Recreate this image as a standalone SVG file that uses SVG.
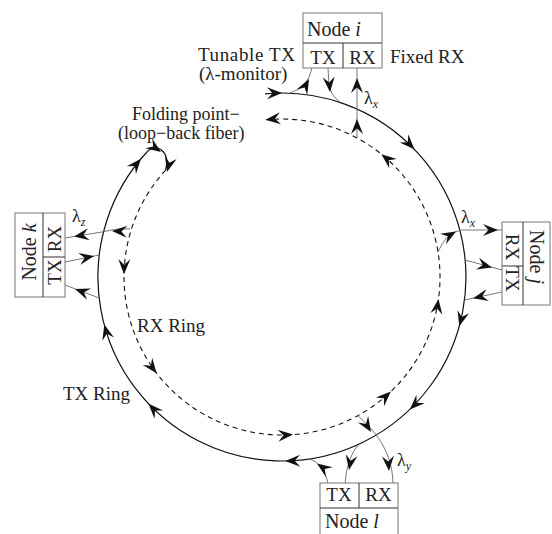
<svg xmlns="http://www.w3.org/2000/svg" width="552" height="534" viewBox="0 0 552 534">
<style>
.t{font-family:"Liberation Serif","Times New Roman",serif;font-size:19px;fill:#222}
.s{font-size:18px}
.n{font-size:20px}
.sub{font-size:12px;font-style:italic}
.it{font-style:italic}
.box{fill:#fff;stroke:#777;stroke-width:1}
.div{fill:none;stroke:#333;stroke-width:1}
.ring{fill:none;stroke:#111;stroke-width:1.2}
.dash{fill:none;stroke:#111;stroke-width:1.1;stroke-dasharray:5 4}
.conn{fill:none;stroke:#666;stroke-width:0.9}
.ah{fill:#111}
</style>
<defs>
<path id="ah" class="ah" d="M0,0 L-15,-6 L-9.5,0 L-15,6 Z"/>
</defs>

<g id="rings">
<path class="ring" d="M265,93.8 A184,184 0 1 1 147.4,151.5"/>
<path class="ring" d="M147.4,151.5 C155,143 171,150 165.5,170.3"/>
<path class="dash" d="M165.5,170.3 A158,158 0 1 0 266.3,119.8"/>
</g>

<g id="connectors">
<!-- node i -->
<path class="conn" d="M290,93 Q308,88 312,68"/>
<path class="conn" d="M328,68 L329,85 Q331,96 340,102"/>
<path class="conn" d="M357,138 L357,68"/>
<!-- node j -->
<path class="conn" d="M438,252 Q446,232 462,230 L502,230"/>
<path class="conn" d="M465,260 L502,270"/>
<path class="conn" d="M502,292 L464.6,300"/>
<!-- node k -->
<path class="conn" d="M130,229 Q118,228 102,232 L65,238"/>
<path class="conn" d="M65,262 L99.3,255"/>
<path class="conn" d="M99.2,298 L65,285"/>
<!-- node l -->
<path class="conn" d="M328,483 Q324,464 310,459"/>
<path class="conn" d="M358,445 Q347,458 345,483"/>
<path class="conn" d="M357,415 C368,425 392,445 393,483"/>
</g>

<g id="arrowheads">
<!-- outer ring (clockwise) -->
<use href="#ah" transform="translate(282,93.1) rotate(-0.3)"/>
<use href="#ah" transform="translate(414.4,149.2) rotate(46)"/>
<use href="#ah" transform="translate(459.3,326.2) rotate(105.5)"/>
<use href="#ah" transform="translate(409.8,409.4) rotate(136)"/>
<use href="#ah" transform="translate(285.2,461) rotate(179)"/>
<use href="#ah" transform="translate(148.5,403.7) rotate(226.5)"/>
<use href="#ah" transform="translate(104.3,324.6) rotate(255)"/>
<use href="#ah" transform="translate(141,158.7) rotate(-50)"/>
<!-- fold -->
<use href="#ah" transform="translate(161,152) rotate(35)"/>
<use href="#ah" transform="translate(167,172) rotate(105)"/>
<!-- inner ring (counterclockwise) -->
<use href="#ah" transform="translate(124,274.2) rotate(91)"/>
<use href="#ah" transform="translate(156.6,373.2) rotate(52.5)"/>
<use href="#ah" transform="translate(293,434.6) rotate(-4)"/>
<use href="#ah" transform="translate(390.8,391.6) rotate(-43.5)"/>
<use href="#ah" transform="translate(438.5,299) rotate(-82)"/>
<use href="#ah" transform="translate(381.4,154.2) rotate(-141)"/>
<use href="#ah" transform="translate(265.5,119.8) rotate(174)"/>
<!-- node i -->
<use href="#ah" transform="translate(309,79) rotate(-62)"/>
<use href="#ah" transform="translate(330,92) rotate(85)"/>
<use href="#ah" transform="translate(357,78) rotate(-90)"/>
<use href="#ah" transform="translate(357,119) rotate(-90)"/>
<!-- node j -->
<use href="#ah" transform="translate(456,231.5) rotate(-30)"/>
<use href="#ah" transform="translate(498,230) rotate(0)"/>
<use href="#ah" transform="translate(492,267.5) rotate(15)"/>
<use href="#ah" transform="translate(473,298.2) rotate(168)"/>
<!-- node k -->
<use href="#ah" transform="translate(112,231) rotate(183)"/>
<use href="#ah" transform="translate(74,236.6) rotate(171)"/>
<use href="#ah" transform="translate(94,256) rotate(-11)"/>
<use href="#ah" transform="translate(75,289) rotate(200)"/>
<!-- node l -->
<use href="#ah" transform="translate(317,463.5) rotate(-145)"/>
<use href="#ah" transform="translate(349,470) rotate(100)"/>
<use href="#ah" transform="translate(371,432) rotate(58)"/>
<use href="#ah" transform="translate(389,471) rotate(86)"/>
</g>

<g id="node-i">
<rect class="box" x="303" y="13" width="79" height="55"/>
<path class="div" d="M303,43 H382 M343,43 V68"/>
<text class="t n" x="307" y="36">Node <tspan class="it">i</tspan></text>
<text class="t" x="323" y="64" text-anchor="middle">TX</text>
<text class="t" x="362.5" y="64" text-anchor="middle">RX</text>
</g>

<g id="node-j">
<rect class="box" x="502" y="222" width="48" height="83"/>
<path class="div" d="M523,222 V305 M502,266 H523"/>
<text class="t n" transform="translate(530,257) rotate(90)" text-anchor="middle">Node <tspan class="it">j</tspan></text>
<text class="t" transform="translate(506,247) rotate(90)" text-anchor="middle">RX</text>
<text class="t" transform="translate(506,279) rotate(90)" text-anchor="middle">TX</text>
</g>

<g id="node-k">
<rect class="box" x="15" y="213" width="50" height="84"/>
<path class="div" d="M43,213 V297 M43,257 H65"/>
<text class="t n" transform="translate(36,252) rotate(-90)" text-anchor="middle">Node <tspan class="it">k</tspan></text>
<text class="t" transform="translate(61,239) rotate(-90)" text-anchor="middle">RX</text>
<text class="t" transform="translate(61,272) rotate(-90)" text-anchor="middle">TX</text>
</g>

<g id="node-l">
<rect class="box" x="320" y="483" width="78" height="60"/>
<path class="div" d="M320,508 H398 M359,483 V508"/>
<text class="t" x="339" y="501" text-anchor="middle">TX</text>
<text class="t" x="378.5" y="501" text-anchor="middle">RX</text>
<text class="t n" x="325" y="528">Node <tspan class="it">l</tspan></text>
</g>

<g id="labels">
<text class="t" x="295" y="61" text-anchor="end" textLength="97">Tunable TX</text>
<text class="t" x="199" y="80">(λ-monitor)</text>
<text class="t" x="390" y="63">Fixed RX</text>
<text class="t s" x="132" y="120">Folding point−</text>
<text class="t s" x="118" y="139">(loop−back fiber)</text>
<text class="t" x="137" y="332">RX Ring</text>
<text class="t" x="63" y="400">TX Ring</text>
<text class="t s" x="364" y="104">λ<tspan class="sub" dy="4">x</tspan></text>
<text class="t s" x="461" y="223">λ<tspan class="sub" dy="4">x</tspan></text>
<text class="t s" x="72" y="222">λ<tspan class="sub" dy="4">z</tspan></text>
<text class="t s" x="397" y="466">λ<tspan class="sub" dy="4">y</tspan></text>
</g>
</svg>
